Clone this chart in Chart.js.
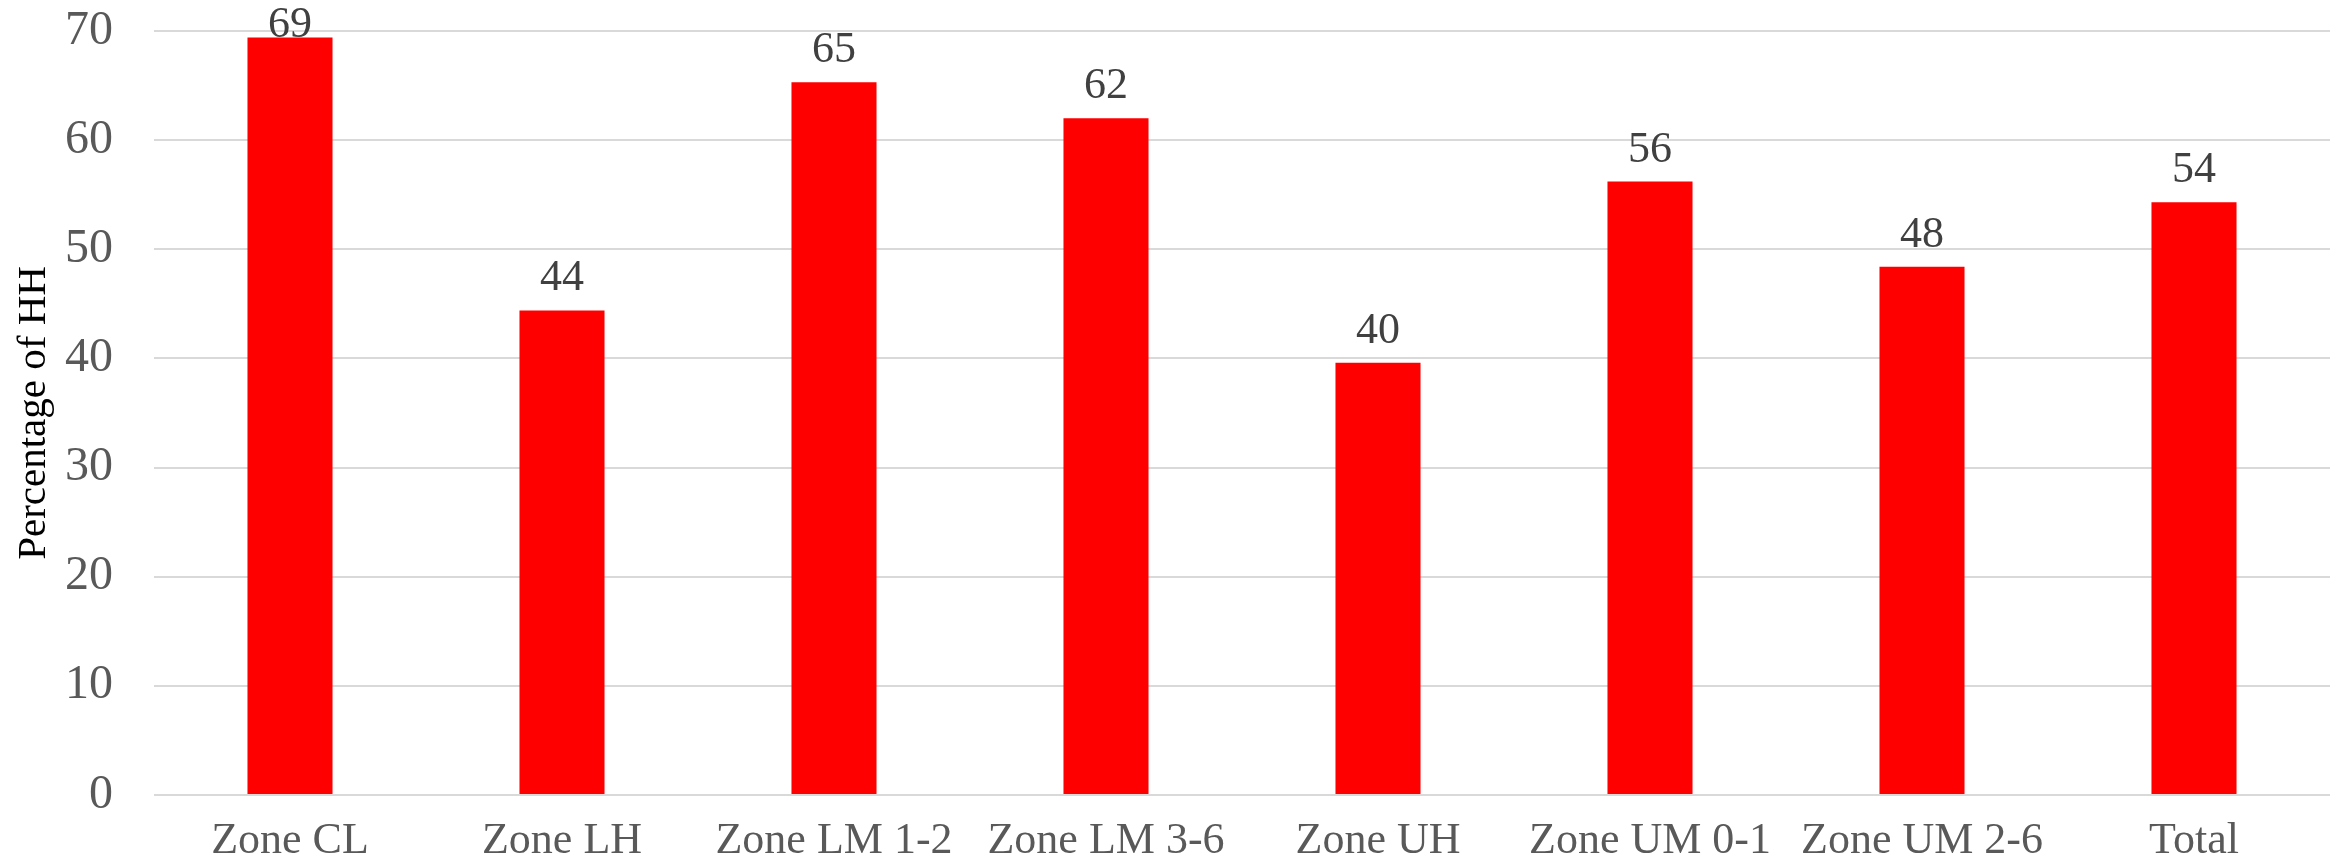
<!DOCTYPE html>
<html>
<head>
<meta charset="utf-8">
<script src="https://cdn.jsdelivr.net/npm/chart.js@4/dist/chart.umd.min.js"></script>
<style>
  html, body { margin: 0; padding: 0; background: #fff; }
  #wrap { width: 2339px; height: 865px; }
</style>
</head>
<body>
<div id="wrap"><canvas id="myChart" width="2339" height="865"></canvas></div>
<script>
// data
var zones = ['Zone CL', 'Zone LH', 'Zone LM 1-2', 'Zone LM 3-6', 'Zone UH', 'Zone UM 0-1', 'Zone UM 2-6', 'Total'];
var pctHH = [69.4, 44.4, 65.3, 62.0, 39.6, 56.2, 48.4, 54.3];
var yTicks = [0, 10, 20, 30, 40, 50, 60, 70];

var serif = "'Liberation Serif', 'Times New Roman', serif";

// draws the rounded value above every bar
var valueLabels = {
    id: 'valueLabels',
    afterDatasetsDraw: function (chart) {
        var ctx = chart.ctx;
        var meta = chart.getDatasetMeta(0);
        ctx.save();
        ctx.font = '44px ' + serif;
        ctx.fillStyle = '#404040';
        ctx.textAlign = 'center';
        ctx.textBaseline = 'alphabetic';
        meta.data.forEach(function (bar, i) {
            var y = Math.max(bar.y - 20, 37);
            ctx.fillText(Math.round(pctHH[i]), bar.x, y);
        });
        ctx.restore();
    }
};

var ctx = document.getElementById('myChart').getContext('2d');
var myChart = new Chart(ctx, {
    type: 'bar',
    data: {
        labels: zones,
        datasets: [{
            label: 'Percentage of HH',
            data: pctHH,
            backgroundColor: '#ff0000',
            borderWidth: 0,
            barPercentage: 0.3127,
            categoryPercentage: 1
        }]
    },
    options: {
        responsive: false,
        animation: false,
        events: [],
        layout: { padding: { top: 31, right: 9, bottom: 0, left: 0 } },
        plugins: {
            legend: { display: false },
            tooltip: { enabled: false }
        },
        scales: {
            x: {
                grid: { display: false },
                border: { display: false },
                ticks: {
                    color: '#595959',
                    font: { family: serif, size: 44 },
                    padding: 12,
                    maxRotation: 0,
                    autoSkip: false
                },
                afterFit: function (scale) {
                    scale.height = 70;
                    scale.paddingLeft = 0;
                    scale.paddingRight = 0;
                }
            },
            y: {
                min: 0,
                max: 70,
                afterBuildTicks: function (scale) {
                    scale.ticks = yTicks.map(function (v) { return { value: v }; });
                },
                grid: { color: '#d9d9d9', lineWidth: 2, drawTicks: false },
                border: { display: false },
                ticks: {
                    color: '#595959',
                    font: { family: serif, size: 48 },
                    padding: 41
                },
                title: {
                    display: true,
                    text: 'Percentage of HH',
                    color: '#000000',
                    font: { family: serif, size: 41 },
                    padding: { top: 10, bottom: 0 }
                },
                afterFit: function (scale) {
                    scale.width = 154;
                    scale.paddingTop = 0;
                    scale.paddingBottom = 0;
                }
            }
        }
    },
    plugins: [valueLabels]
});
</script>
</body>
</html>
